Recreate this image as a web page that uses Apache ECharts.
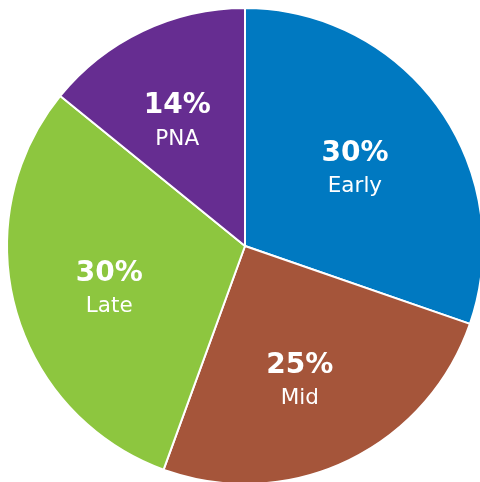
<!DOCTYPE html>
<html>
<head>
<meta charset="utf-8">
<script src="https://cdn.jsdelivr.net/npm/echarts@6/dist/echarts.min.js"></script>
<style>html,body{margin:0;padding:0;background:#fff;}#c{width:480px;height:482px;}</style>
</head>
<body>
<div id="c"></div>
<script>
const categories = ['Early', 'Mid', 'Late', 'PNA'];
const values = [30, 25, 30, 14];
const colors = ['#0079c1', '#a5553a', '#8dc63f', '#662d91'];

const labelOffsets = { Early: [-9, 9], Mid: [-8, 5], Late: [5, 6], PNA: [-5, 9] };
const data = categories.map((n, i) => ({ name: n, value: values[i], itemStyle: { color: colors[i] } }));
const chart = echarts.init(document.getElementById('c'));
chart.setOption({
  animation: false,
  series: [
    {
      type: 'pie',
      center: [245, 246],
      radius: [0, 238],
      startAngle: 90,
      clockwise: true,
      silent: true,
      itemStyle: { borderColor: '#fff', borderWidth: 2 },
      label: { show: false },
      labelLine: { show: false },
      data: data
    },
    {
      type: 'pie',
      center: [245, 246],
      radius: [48, 238],
      startAngle: 90,
      clockwise: true,
      silent: true,
      itemStyle: { color: 'rgba(0,0,0,0)', borderWidth: 0 },
      label: {
        show: true,
        position: 'inside',
        offset: [-5, 5],
        formatter: p => '{p|' + p.value + '%}\n{n|' + p.name + '}',
        rich: {
          p: { fontFamily: 'DejaVu Sans', fontWeight: 'bold', fontSize: 28, color: '#fff', lineHeight: 32 },
          n: { fontFamily: 'DejaVu Sans', fontSize: 21.5, color: '#fff', lineHeight: 34 }
        }
      },
      labelLine: { show: false },
      data: categories.map((n, i) => {
        const d = { name: n, value: values[i] };
        if (labelOffsets[n]) d.label = { offset: labelOffsets[n] };
        return d;
      })
    }
  ]
});
</script>
</body>
</html>
